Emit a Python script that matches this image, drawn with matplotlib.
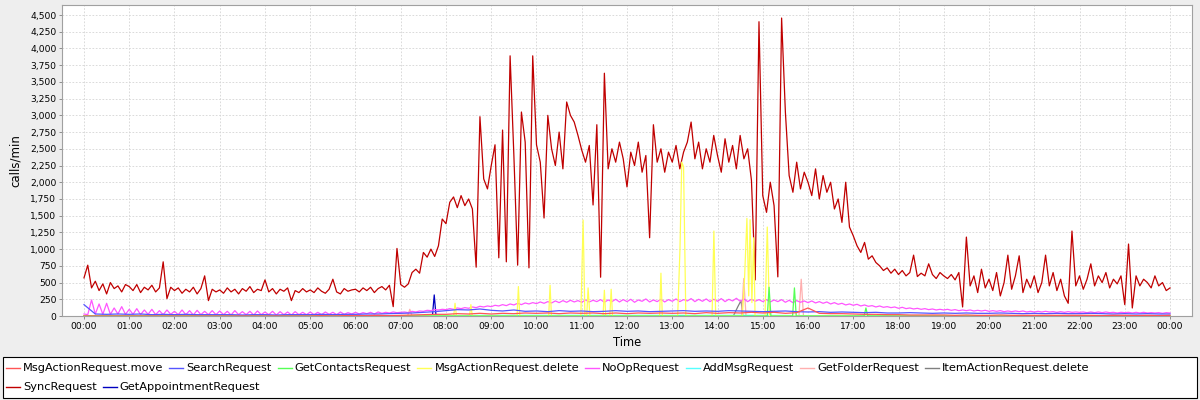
import numpy as np
import matplotlib
matplotlib.use('Agg')
import matplotlib.pyplot as plt
from matplotlib.lines import Line2D
from matplotlib.patches import Rectangle
from matplotlib.ticker import FuncFormatter, MultipleLocator

# SyncRequest, one value every 5 minutes (00:00 .. 24:00)
sync_vals = [
    570, 760, 420, 520, 380, 480, 330, 500, 410, 450, 360, 470,
    440, 380, 470, 350, 430, 390, 460, 360, 420, 810, 260, 430,
    380, 420, 340, 400, 360, 430, 330, 410, 600, 230, 400, 360,
    390, 340, 420, 360, 400, 330, 410, 370, 440, 350, 400, 380,
    540, 360, 410, 330, 400, 370, 420, 230, 380, 350, 410, 360,
    390, 350, 420, 370, 340, 400, 550, 360, 330, 410, 370, 390,
    400, 360, 420, 380, 430, 350, 410, 440, 390, 460, 140, 1010,
    470, 430, 480, 650, 700, 640, 950, 880, 1000, 890, 1050, 1450,
    1380, 1700, 1780, 1620, 1800, 1650, 1750, 1600, 730, 2980, 2050, 1900,
    2250, 2560, 870, 2780, 810, 3890, 2400, 760, 3050, 2600, 720, 3890,
    2560, 2300, 1465, 3000, 2500, 2250, 2750, 2200, 3200, 3000, 2900, 2700,
    2480, 2300, 2550, 1660, 2860, 580, 3630, 2200, 2500, 2300, 2600, 2350,
    1930, 2450, 2250, 2600, 2150, 2400, 1170, 2860, 2300, 2500, 2150, 2450,
    2300, 2550, 2200, 2450, 2600, 2900, 2350, 2600, 2200, 2500, 2300, 2700,
    2400, 2150, 2650, 2300, 2550, 2200, 2700, 2350, 2500, 2030, 540, 4400,
    1800, 1550, 2000, 1650, 585, 4455, 3050, 2100, 1850, 2300, 1900, 2150,
    2000, 1800, 2200, 1750, 2100, 1850, 2000, 1600, 1750, 1400, 2000, 1330,
    1200, 1050, 950, 1100, 850, 900, 800, 750, 680, 720, 640, 700,
    620, 680, 600, 650, 910, 590, 640, 600, 780, 620, 560, 650,
    600, 560, 620, 540, 650, 135, 1180, 450, 600, 350, 700, 420,
    550, 380, 650, 300, 500, 910, 400, 600, 900, 350, 550, 420,
    600, 350, 500, 910, 450, 650, 380, 550, 300, 190, 1270, 450,
    600, 400, 550, 780, 450, 600, 500, 650, 420, 550, 480, 600,
    170, 1076, 120, 600, 450, 550, 500, 420, 600, 450, 500, 380,
    420,
]

# NoOpRequest, every 5 minutes
noop_vals = [
    30, 20, 240, 30, 180, 25, 190, 25, 120, 30, 140, 25,
    100, 25, 110, 20, 90, 25, 100, 20, 80, 20, 90, 25,
    70, 20, 90, 20, 80, 15, 85, 20, 70, 20, 80, 20,
    75, 20, 70, 15, 80, 20, 65, 20, 70, 15, 75, 20,
    60, 20, 70, 15, 65, 20, 60, 15, 65, 20, 55, 20,
    60, 20, 55, 20, 60, 25, 55, 20, 60, 25, 50, 30,
    55, 30, 50, 35, 55, 30, 60, 40, 55, 45, 60, 50,
    55, 60, 50, 70, 60, 75, 70, 85, 80, 95, 90, 100,
    95, 110, 100, 120, 110, 125, 115, 135, 125, 145, 135, 150,
    140, 160, 150, 170, 155, 180, 165, 190, 170, 195, 180, 200,
    185, 210, 190, 215, 195, 225, 200, 230, 205, 235, 210, 230,
    205, 240, 210, 235, 215, 245, 205, 240, 215, 250, 210, 245,
    215, 250, 205, 240, 220, 255, 210, 240, 215, 250, 210, 245,
    220, 255, 215, 245, 225, 260, 215, 250, 220, 255, 215, 250,
    220, 260, 215, 250, 225, 265, 220, 255, 215, 250, 220, 245,
    215, 245, 210, 240, 215, 245, 205, 235, 200, 230, 205, 225,
    200, 225, 195, 215, 190, 210, 180, 200, 175, 190, 165, 180,
    160, 175, 150, 165, 145, 155, 135, 150, 130, 140, 125, 135,
    115, 130, 110, 120, 105, 115, 100, 110, 95, 105, 90, 100,
    90, 100, 85, 95, 80, 90, 80, 90, 75, 85, 75, 85,
    70, 80, 70, 80, 65, 75, 65, 75, 65, 75, 60, 70,
    60, 70, 60, 70, 60, 65, 55, 65, 55, 65, 55, 60,
    55, 60, 50, 60, 50, 60, 50, 60, 50, 55, 45, 55,
    50, 55, 45, 55, 45, 55, 45, 50, 45, 50, 40, 50,
    45,
]

# SearchRequest, every 15 minutes
search_vals = [
    170, 30, 25, 30, 25, 30, 20, 25, 20, 25, 20, 20,
    20, 20, 15, 20, 20, 15, 20, 20, 20, 25, 20, 25,
    25, 30, 30, 35, 40, 45, 55, 65, 80, 95, 90, 105,
    85, 75, 90, 70, 75, 65, 80, 70, 75, 65, 70, 80,
    70, 75, 65, 70, 75, 80, 70, 75, 70, 80, 75, 70,
    65, 70, 75, 65, 60, 65, 55, 60, 55, 50, 55, 45,
    45, 50, 45, 40, 45, 40, 45, 40, 40, 45, 40, 35,
    40, 35, 40, 35, 35, 40, 35, 30, 35, 30, 35, 30,
    30,
]

# MsgActionRequest.move, every 15 minutes
move_vals = [
    0, 0, 0, 0, 0, 0, 0, 0, 0, 0, 0, 0,
    0, 0, 0, 0, 0, 0, 0, 0, 0, 5, 0, 5,
    5, 5, 10, 5, 10, 15, 20, 25, 25, 35, 30, 40,
    30, 40, 35, 45, 40, 45, 35, 45, 40, 45, 35, 45,
    35, 45, 40, 45, 40, 45, 35, 50, 40, 50, 45, 55,
    45, 55, 40, 50, 120, 40, 35, 35, 30, 25, 25, 20,
    20, 15, 15, 15, 15, 10, 15, 10, 10, 15, 10, 10,
    10, 10, 10, 10, 10, 10, 5, 10, 10, 5, 10, 5,
    10,
]

# AddMsgRequest, hourly
addmsg_vals = [0, 0, 0, 0, 0, 0, 0, 5, 5, 10, 10, 10, 10,
               10, 10, 10, 5, 5, 5, 5, 5, 5, 0, 0, 0]

# sparse series: (hour, value) pairs
delete_t = [0.0, 8.17, 8.20, 8.23, 8.52, 8.55, 8.58, 9.57, 9.60, 9.63,
            10.27, 10.30, 10.33, 10.98, 11.03, 11.07, 11.11, 11.14, 11.18,
            11.47, 11.50, 11.53, 11.62, 11.65, 11.68, 12.72, 12.75, 12.78,
            13.12, 13.17, 13.21, 13.25, 13.30, 13.88, 13.92, 13.96,
            14.55, 14.60, 14.65, 14.69, 14.72, 14.76, 14.80, 14.83,
            15.05, 15.10, 15.15, 24.0]
delete_v = [0, 0, 190, 0, 0, 170, 0, 0, 440, 0,
            0, 460, 0, 0, 1435, 0, 0, 420, 0,
            0, 385, 0, 0, 400, 0, 0, 640, 0,
            0, 985, 2300, 2230, 0, 0, 1270, 0,
            0, 600, 1460, 300, 1440, 200, 1170, 0,
            0, 1330, 0, 0]

contacts_t = [0.0, 15.10, 15.14, 15.18, 15.66, 15.70, 15.74, 17.24, 17.28, 17.32, 24.0]
contacts_v = [0, 0, 430, 0, 0, 420, 0, 0, 120, 0, 0]

folder_t = [0.0, 7.15, 7.20, 7.25, 14.53, 14.58, 14.63, 15.80, 15.85, 15.90, 24.0]
folder_v = [0, 0, 100, 0, 0, 560, 0, 0, 550, 0, 0]

itemdel_t = [0.0, 14.35, 14.45, 14.52, 14.56, 24.0]
itemdel_v = [0, 0, 140, 230, 0, 0]

appt_t = [0.0, 7.70, 7.74, 7.78, 24.0]
appt_v = [0, 0, 315, 0, 0]

labels = ['MsgActionRequest.move', 'SearchRequest', 'GetContactsRequest',
          'MsgActionRequest.delete', 'NoOpRequest', 'AddMsgRequest',
          'GetFolderRequest', 'ItemActionRequest.delete', 'SyncRequest',
          'GetAppointmentRequest']
colors = ['#ff5555', '#5555ff', '#55ff55', '#ffff55', '#ff55ff', '#55ffff',
          '#ffafaf', '#808080', '#c00000', '#0000c0']

t5 = np.arange(len(sync_vals)) * 5 / 60.0
t15 = np.arange(len(search_vals)) * 15 / 60.0
t60 = np.arange(len(addmsg_vals))

series = [
    (np.arange(len(move_vals)) * 15 / 60.0, move_vals),
    (t15, search_vals),
    (contacts_t, contacts_v),
    (delete_t, delete_v),
    (np.arange(len(noop_vals)) * 5 / 60.0, noop_vals),
    (t60, addmsg_vals),
    (folder_t, folder_v),
    (itemdel_t, itemdel_v),
    (t5, sync_vals),
    (appt_t, appt_v),
]

fig = plt.figure(figsize=(12, 4), dpi=100, facecolor='#eeeeee')
ax = fig.add_axes([62 / 1200, 84 / 400, 1130 / 1200, 311 / 400])
ax.set_facecolor('white')

n = len(series)
for i, ((x, y), c) in enumerate(zip(series, colors)):
    ax.plot(x, y, color=c, lw=0.9, zorder=3 + n - i)

ax.set_xlim(-0.486, 24.486)
ax.set_ylim(0, 4650)
ax.set_xticks(range(25))
ax.set_xticklabels(['%02d:00' % (h % 24) for h in range(25)])
ax.yaxis.set_major_locator(MultipleLocator(250))
ax.yaxis.set_major_formatter(FuncFormatter(lambda v, p: '{:,.0f}'.format(v)))
ax.tick_params(labelsize=6.6, length=2, width=0.6, color='#808080', pad=2)
ax.grid(True, color='#d4d4d4', ls=(0, (2, 2)), lw=0.6, zorder=1)
for s in ax.spines.values():
    s.set_color('#a0a0a0')
    s.set_linewidth(0.8)

ax.set_xlabel('Time', fontsize=8.3, labelpad=4)
ax.set_ylabel('calls/min', fontsize=8.5, labelpad=6)

# legend box, flow layout like the original
fig.patches.append(Rectangle((3 / 1200, 2 / 400), 1194 / 1200, 41 / 400,
                             transform=fig.transFigure, facecolor='white',
                             edgecolor='black', lw=0.8))
rows = [labels[:8], labels[8:]]
row_y = [1 - 368 / 400, 1 - 387 / 400]
fig.canvas.draw()
renderer = fig.canvas.get_renderer()
k = 0
for r, names in enumerate(rows):
    x = 6
    for name in names:
        fig.lines.append(Line2D([x / 1200, (x + 14) / 1200], [row_y[r], row_y[r]],
                                transform=fig.transFigure, color=colors[k], lw=1.0))
        txt = fig.text((x + 17) / 1200, row_y[r], name, fontsize=8.2, va='center', ha='left')
        w = txt.get_window_extent(renderer).width
        x = x + 17 + w + 6
        k += 1

fig.savefig('out.png', dpi=100, facecolor=fig.get_facecolor())
